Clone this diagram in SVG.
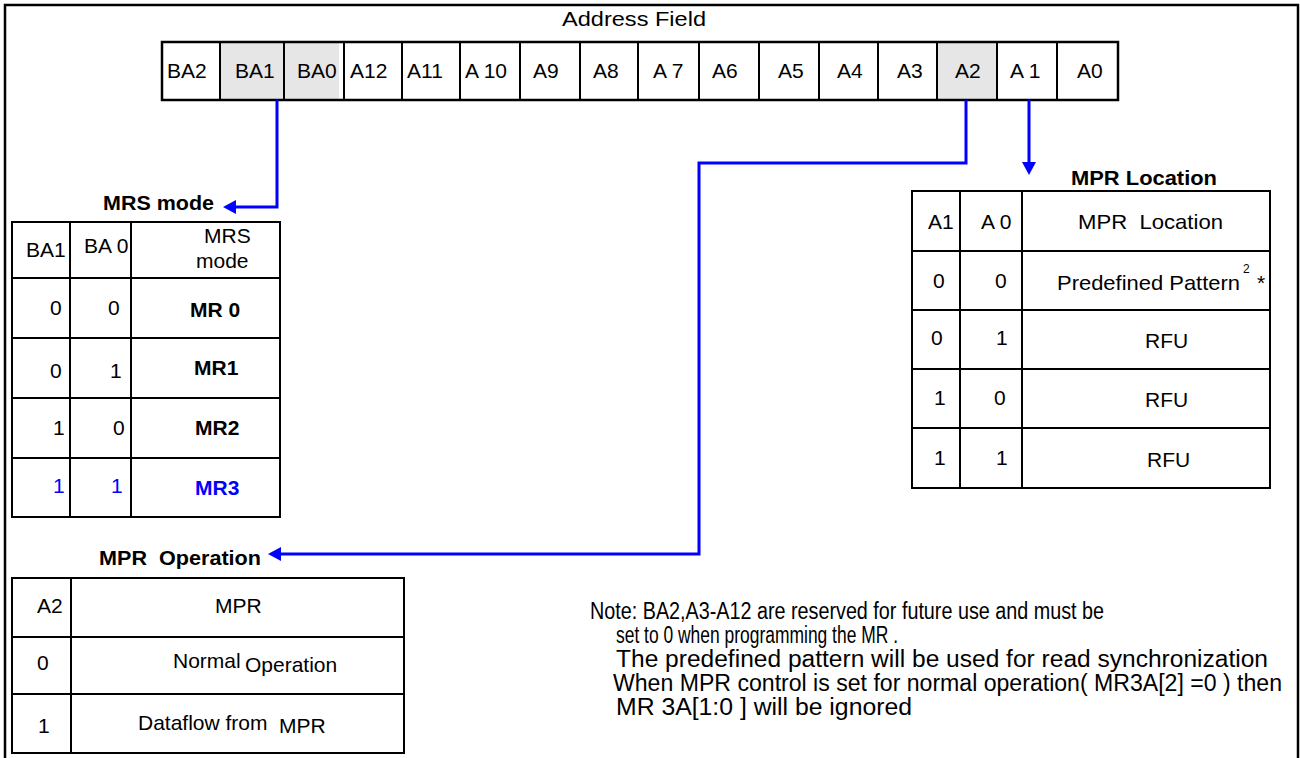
<svg xmlns="http://www.w3.org/2000/svg" width="1300" height="758" viewBox="0 0 1300 758">
<defs>
<style>
text{font-family:"Liberation Sans",Arial,sans-serif;font-size:21px;fill:#000}
.b{font-weight:bold}
.blue{fill:#0000ff}
.grid{fill:none;stroke:#000;stroke-width:2}
.cell{fill:#fff;stroke:#000;stroke-width:2}
.sh{fill:#e6e6e6}
.conn{fill:none;stroke:#0000ff;stroke-width:3}
.note{font-size:23px}
</style>
<marker id="ah" markerWidth="14" markerHeight="14" refX="0" refY="7" orient="auto" markerUnits="userSpaceOnUse">
<path d="M0,0 L13,7 L0,14 z" fill="#0000ff"/>
</marker>
</defs>
<rect width="1300" height="758" fill="#fff"/>
<path d="M5,758 V5 H1298 V758" fill="none" stroke="#000" stroke-width="2.5"/>

<g id="address-field">
<text x="634" y="26" text-anchor="middle" textLength="144" lengthAdjust="spacingAndGlyphs">Address Field</text>
<rect x="220" y="42" width="119" height="58" class="sh"/>
<rect x="937" y="42" width="60" height="58" class="sh"/>
<rect x="162" y="42" width="956" height="58" fill="none" stroke="#000" stroke-width="2.5"/>
<path class="grid" d="M220,42V100 M284,42V100 M344,42V100 M402,42V100 M460,42V100 M520,42V100 M580,42V100 M638,42V100 M699,42V100 M759,42V100 M819,42V100 M878,42V100 M937,42V100 M997,42V100 M1057,42V100"/>
<text x="167" y="78">BA2</text>
<text x="235" y="78">BA1</text>
<text x="297" y="78">BA0</text>
<text x="350" y="78">A12</text>
<text x="407" y="78">A11</text>
<text x="465" y="78">A 10</text>
<text x="533" y="78">A9</text>
<text x="593" y="78">A8</text>
<text x="653" y="78">A 7</text>
<text x="712" y="78">A6</text>
<text x="778" y="78">A5</text>
<text x="837" y="78">A4</text>
<text x="897" y="78">A3</text>
<text x="955" y="78">A2</text>
<text x="1010" y="78">A 1</text>
<text x="1077" y="78">A0</text>
</g>

<g id="connectors">
<path class="conn" d="M277,100 V207 H236" marker-end="url(#ah)"/>
<path class="conn" d="M966,100 V163 H699 V554 H281" marker-end="url(#ah)"/>
<path class="conn" d="M1029,100 V162" marker-end="url(#ah)"/>
</g>

<g id="mrs-mode">
<text x="103" y="210" class="b" textLength="111" lengthAdjust="spacingAndGlyphs">MRS mode</text>
<rect x="12" y="222" width="268" height="295" class="cell"/>
<path class="grid" d="M70,222V517 M131,222V517 M12,278H280 M12,338H280 M12,398H280 M12,458H280"/>
<text x="26" y="257">BA1</text>
<text x="84" y="253">BA 0</text>
<text x="204" y="243">MRS</text>
<text x="196" y="268">mode</text>
<text x="50" y="315">0</text>
<text x="108" y="315">0</text>
<text x="190" y="317" class="b">MR 0</text>
<text x="50" y="378">0</text>
<text x="110" y="378">1</text>
<text x="194" y="375" class="b">MR1</text>
<text x="53" y="435">1</text>
<text x="113" y="435">0</text>
<text x="195" y="435" class="b">MR2</text>
<text x="53" y="493" class="blue">1</text>
<text x="111" y="493" class="blue">1</text>
<text x="195" y="495" class="b blue">MR3</text>
</g>

<g id="mpr-location">
<text x="1071" y="185" class="b" textLength="146" lengthAdjust="spacingAndGlyphs">MPR Location</text>
<rect x="912" y="191" width="358" height="297" class="cell"/>
<path class="grid" d="M960,191V488 M1022,191V488 M912,251H1270 M912,310H1270 M912,369H1270 M912,428H1270"/>
<text x="928" y="229">A1</text>
<text x="981" y="229">A 0</text>
<text x="1078" y="229" xml:space="preserve" textLength="145" lengthAdjust="spacingAndGlyphs">MPR  Location</text>
<text x="933" y="288">0</text>
<text x="995" y="288">0</text>
<text x="1057" y="290" textLength="183" lengthAdjust="spacingAndGlyphs">Predefined Pattern</text>
<text x="1243" y="273" style="font-size:12px">2</text>
<text x="1257" y="290">*</text>
<text x="931" y="345">0</text>
<text x="996" y="345">1</text>
<text x="1145" y="348">RFU</text>
<text x="934" y="405">1</text>
<text x="994" y="405">0</text>
<text x="1145" y="407">RFU</text>
<text x="934" y="465">1</text>
<text x="996" y="465">1</text>
<text x="1147" y="467">RFU</text>
</g>

<g id="mpr-operation">
<text x="99" y="565" class="b" xml:space="preserve" textLength="162" lengthAdjust="spacingAndGlyphs">MPR  Operation</text>
<rect x="12" y="578" width="392" height="175" class="cell"/>
<path class="grid" d="M71,578V753 M12,637H404 M12,694H404"/>
<text x="37" y="613">A2</text>
<text x="215" y="613">MPR</text>
<text x="37" y="670">0</text>
<text x="173" y="668">Normal</text>
<text x="245" y="672">Operation</text>
<text x="38" y="733">1</text>
<text x="138" y="730">Dataflow from</text>
<text x="279" y="733">MPR</text>
</g>

<g id="note">
<text class="note" x="590" y="619" textLength="514" lengthAdjust="spacingAndGlyphs">Note: BA2,A3-A12 are reserved for future use and must be</text>
<text class="note" x="616" y="643" textLength="282" lengthAdjust="spacingAndGlyphs">set  to 0 when programming the MR .</text>
<text class="note" x="616" y="667" textLength="652" lengthAdjust="spacingAndGlyphs">The predefined pattern will be used for read synchronization</text>
<text class="note" x="613" y="691" textLength="669" lengthAdjust="spacingAndGlyphs">When MPR control is set for normal operation( MR3A[2] =0 ) then</text>
<text class="note" x="616" y="715" textLength="296" lengthAdjust="spacingAndGlyphs">MR 3A[1:0 ] will be ignored</text>
</g>
</svg>
